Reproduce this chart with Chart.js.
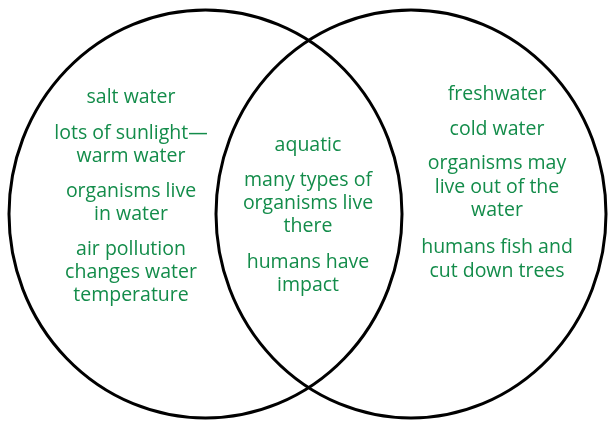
<!DOCTYPE html>
<html><head><meta charset="utf-8">
<script src="https://cdn.jsdelivr.net/npm/chart.js@4/dist/chart.umd.min.js"></script>
<style>html,body{margin:0;padding:0;background:#fff;overflow:hidden}#wrap{width:608px;height:421px}</style>
</head><body><div id="wrap"><canvas id="c" width="608" height="421"></canvas></div>
<script>
// Venn sets (in chart units: x 0..608, y 0..421)
const setNames = ['left', 'right'];
const setCenterX = [205.5, 411];
const setCenterY = [214, 214];
const setRadiusX = [196.5, 195];
const setRadiusY = [204, 204];

// Region texts (each entry is one item; lines separated by \n)
const leftItems = ['salt water', 'lots of sunlight\u2014\nwarm water', 'organisms live\nin water', 'air pollution\nchanges water\ntemperature'];
const bothItems = ['aquatic', 'many types of\norganisms live\nthere', 'humans have\nimpact'];
const rightItems = ['freshwater', 'cold water', 'organisms may\nlive out of the\nwater', 'humans fish and\ncut down trees'];

// layout (not data)
const regionLayout = [
  {items: leftItems, x: 131, starts: [103, 139, 197, 255], lh: 23},
  {items: bothItems, x: 308, starts: [151, 186, 268], lh: 23},
  {items: rightItems, x: 497, starts: [100, 135, 169, 253], lh: 23.5}
];

const vennPlugin = {
  id: 'venn',
  afterDatasetsDraw(chart) {
    const ctx = chart.ctx, xs = chart.scales.x, ys = chart.scales.y;
    ctx.save();
    ctx.strokeStyle = '#000';
    ctx.lineWidth = 3;
    for (let i = 0; i < setNames.length; i++) {
      const cx = xs.getPixelForValue(setCenterX[i]);
      const cy = ys.getPixelForValue(setCenterY[i]);
      const rx = Math.abs(xs.getPixelForValue(setCenterX[i] + setRadiusX[i]) - cx);
      const ry = Math.abs(ys.getPixelForValue(setCenterY[i] + setRadiusY[i]) - cy);
      ctx.beginPath();
      ctx.ellipse(cx, cy, rx, ry, 0, 0, Math.PI * 2);
      ctx.stroke();
    }
    ctx.fillStyle = '#138c4a';
    ctx.font = '19.5px "Open Sans"';
    ctx.textAlign = 'center';
    ctx.textBaseline = 'alphabetic';
    regionLayout.forEach(r => {
      r.items.forEach((item, k) => {
        item.split('\n').forEach((line, j) => {
          ctx.fillText(line, xs.getPixelForValue(r.x), ys.getPixelForValue(r.starts[k] + j * r.lh));
        });
      });
    });
    ctx.restore();
  }
};

new Chart(document.getElementById('c'), {
  type: 'scatter',
  data: {
    datasets: [{
      label: 'sets',
      data: setCenterX.map((x, i) => ({x: x, y: setCenterY[i]})),
      pointRadius: 0
    }]
  },
  options: {
    responsive: false,
    animation: false,
    layout: {padding: 0},
    plugins: {legend: {display: false}, tooltip: {enabled: false}},
    scales: {
      x: {type: 'linear', min: 0, max: 608, display: false},
      y: {type: 'linear', min: 0, max: 421, reverse: true, display: false}
    }
  },
  plugins: [vennPlugin]
});
</script>
</body></html>
